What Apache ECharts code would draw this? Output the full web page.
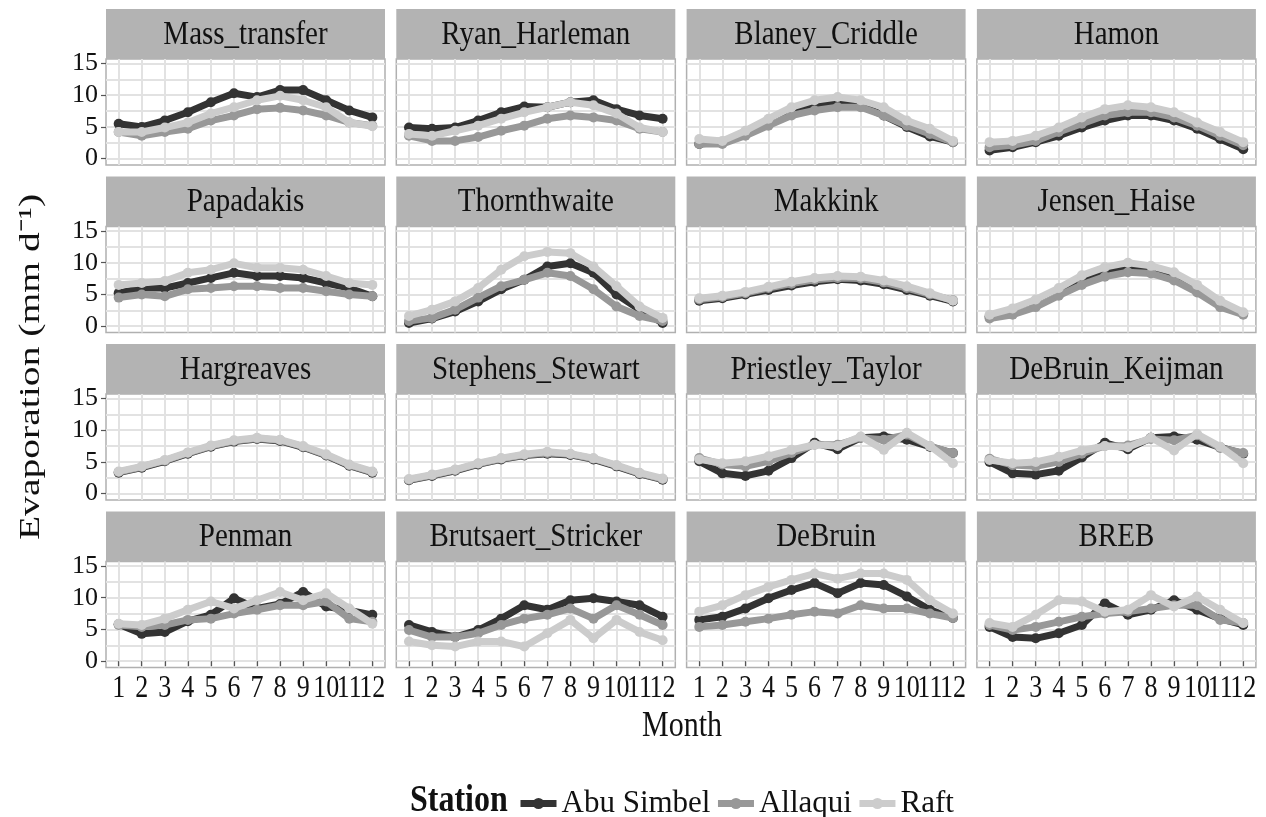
<!DOCTYPE html>
<html>
<head>
<meta charset="utf-8">
<script src="https://cdn.jsdelivr.net/npm/echarts@6/dist/echarts.min.js"></script>
<style>
  html, body { margin: 0; padding: 0; background: #ffffff; }
  #chart { width: 1266px; height: 817px; }
</style>
</head>
<body>
<div id="chart"></div>
<script>
// Monthly mean evaporation (mm/day) by estimation method and station
const months = [1, 2, 3, 4, 5, 6, 7, 8, 9, 10, 11, 12];
const methods = [
  'Mass_transfer', 'Ryan_Harleman', 'Blaney_Criddle', 'Hamon',
  'Papadakis', 'Thornthwaite', 'Makkink', 'Jensen_Haise',
  'Hargreaves', 'Stephens_Stewart', 'Priestley_Taylor', 'DeBruin_Keijman',
  'Penman', 'Brutsaert_Stricker', 'DeBruin', 'BREB'
];
const stations = ['Abu Simbel', 'Allaqui', 'Raft'];
const yTicks = [0, 5, 10, 15];
const yGridValues = [0, 2.5, 5, 7.5, 10, 12.5, 15];

// one row per method, in the order of `methods`
const abuSimbel = [
  [5.5, 5.0, 6.0, 7.3, 8.9, 10.3, 9.7, 10.8, 10.8, 9.2, 7.6, 6.5],
  [4.9, 4.7, 4.9, 6.0, 7.3, 8.2, 8.1, 8.9, 9.2, 7.8, 6.8, 6.3],
  [2.3, 2.6, 3.9, 5.7, 7.3, 8.1, 8.9, 8.4, 6.8, 5.0, 3.5, 2.6],
  [1.3, 1.8, 2.6, 3.6, 4.9, 6.0, 6.8, 6.8, 6.0, 4.7, 3.1, 1.5],
  [5.2, 6.0, 6.0, 6.8, 7.6, 8.4, 7.9, 7.9, 7.6, 6.8, 6.0, 4.7],
  [0.5, 1.2, 2.3, 3.9, 5.8, 7.3, 9.4, 9.9, 8.4, 5.0, 2.6, 0.5],
  [4.0, 4.4, 5.0, 5.7, 6.4, 7.0, 7.4, 7.2, 6.6, 5.7, 4.8, 3.9],
  [1.5, 2.0, 3.2, 5.0, 7.0, 8.5, 9.0, 9.0, 8.0, 6.0, 3.5, 2.0],
  [3.3, 4.1, 5.1, 6.3, 7.4, 8.2, 8.6, 8.3, 7.3, 6.0, 4.4, 3.3],
  [2.1, 2.8, 3.6, 4.6, 5.4, 6.0, 6.3, 6.1, 5.4, 4.3, 3.1, 2.2],
  [5.1, 3.2, 2.8, 3.6, 5.6, 8.0, 7.0, 8.8, 9.0, 8.5, 7.4, 6.4],
  [5.0, 3.2, 3.0, 3.6, 5.7, 8.0, 7.0, 8.8, 9.0, 8.5, 7.3, 6.3],
  [5.8, 4.3, 4.6, 6.3, 7.3, 9.9, 8.3, 9.0, 10.9, 8.6, 8.0, 7.3],
  [5.7, 4.6, 3.8, 4.9, 6.7, 8.8, 8.1, 9.6, 9.9, 9.4, 8.8, 7.0],
  [6.5, 7.0, 8.3, 9.9, 11.2, 12.3, 10.7, 12.3, 12.0, 10.2, 8.1, 6.8],
  [5.4, 3.8, 3.6, 4.4, 5.7, 9.1, 7.3, 8.1, 9.6, 8.1, 6.7, 5.7]
];
const allaqui = [
  [4.2, 3.6, 4.2, 4.7, 6.0, 6.8, 7.8, 8.0, 7.6, 6.8, 5.7, 5.2],
  [3.6, 2.8, 2.8, 3.4, 4.4, 5.2, 6.3, 6.8, 6.5, 6.0, 4.7, 4.2],
  [2.3, 2.3, 3.6, 5.2, 6.8, 7.6, 8.1, 8.1, 6.8, 5.2, 3.9, 2.6],
  [1.8, 2.1, 2.8, 4.2, 5.5, 6.8, 7.3, 7.3, 6.5, 5.2, 3.6, 2.1],
  [4.5, 5.0, 4.7, 5.8, 6.0, 6.3, 6.3, 6.0, 6.0, 5.5, 5.0, 4.7],
  [0.8, 1.3, 2.6, 4.5, 6.3, 7.3, 8.4, 7.9, 5.8, 3.1, 1.6, 0.8],
  [4.2, 4.6, 5.2, 6.0, 6.7, 7.3, 7.6, 7.5, 6.9, 6.0, 5.0, 4.1],
  [1.2, 1.8, 3.0, 4.8, 6.5, 7.8, 8.5, 8.3, 7.2, 5.3, 3.0, 1.8],
  [3.4, 4.2, 5.2, 6.4, 7.5, 8.3, 8.7, 8.4, 7.4, 6.1, 4.5, 3.4],
  [2.2, 2.9, 3.7, 4.7, 5.5, 6.1, 6.4, 6.2, 5.5, 4.4, 3.2, 2.3],
  [5.6, 4.6, 4.3, 5.1, 6.4, 7.7, 7.7, 8.8, 8.5, 9.3, 7.5, 6.4],
  [5.5, 4.5, 4.3, 5.0, 6.3, 7.5, 7.6, 8.6, 8.4, 9.2, 7.2, 6.4],
  [5.7, 5.4, 5.7, 6.5, 6.7, 7.5, 8.1, 8.8, 8.8, 9.4, 6.7, 6.2],
  [4.9, 3.8, 3.8, 4.4, 5.7, 6.7, 7.3, 8.3, 6.7, 8.8, 7.3, 5.7],
  [5.4, 5.7, 6.2, 6.7, 7.3, 7.8, 7.5, 8.8, 8.3, 8.3, 7.5, 6.8],
  [5.7, 4.9, 5.4, 6.2, 7.0, 7.5, 7.8, 8.3, 8.8, 8.8, 6.5, 6.0]
];
const raft = [
  [4.2, 4.2, 4.9, 5.7, 7.1, 8.1, 9.2, 9.9, 9.2, 8.1, 5.7, 5.1],
  [3.9, 3.6, 4.4, 5.2, 6.3, 7.3, 8.1, 8.9, 8.4, 7.1, 4.9, 4.2],
  [3.1, 2.8, 4.4, 6.3, 8.1, 9.2, 9.7, 9.2, 8.1, 6.0, 4.7, 2.8],
  [2.6, 2.8, 3.6, 4.9, 6.5, 7.8, 8.4, 8.1, 7.3, 5.7, 4.2, 2.6],
  [6.5, 6.8, 7.1, 8.4, 8.9, 9.9, 9.2, 9.2, 8.9, 7.9, 6.8, 6.5],
  [1.6, 2.6, 3.9, 6.0, 8.9, 11.0, 11.7, 11.5, 9.4, 6.3, 3.1, 1.3],
  [4.4, 4.8, 5.4, 6.2, 7.0, 7.6, 7.9, 7.8, 7.2, 6.3, 5.2, 4.0],
  [1.8, 2.8, 4.2, 6.0, 8.0, 9.3, 10.0, 9.5, 8.5, 6.5, 4.0, 2.2],
  [3.5, 4.3, 5.3, 6.5, 7.6, 8.4, 8.8, 8.5, 7.5, 6.2, 4.6, 3.5],
  [2.3, 3.0, 3.8, 4.8, 5.6, 6.2, 6.6, 6.3, 5.6, 4.5, 3.3, 2.4],
  [5.4, 4.8, 5.1, 5.9, 6.9, 7.7, 7.5, 9.0, 6.9, 9.6, 7.5, 4.8],
  [5.3, 4.8, 5.0, 5.8, 6.8, 7.5, 7.3, 8.8, 6.8, 9.4, 7.4, 4.8],
  [5.9, 5.7, 6.7, 8.1, 9.4, 8.3, 9.6, 10.9, 9.6, 10.7, 8.3, 5.9],
  [3.1, 2.5, 2.3, 3.1, 3.1, 2.3, 4.4, 6.5, 3.6, 6.5, 4.6, 3.3],
  [7.8, 8.8, 10.4, 11.7, 12.8, 13.8, 13.0, 13.8, 13.8, 12.8, 9.6, 7.5],
  [6.0, 5.4, 7.3, 9.6, 9.4, 7.8, 8.1, 10.4, 8.6, 10.2, 8.1, 6.0]
];

const stationValues = [abuSimbel, allaqui, raft];
const stationColors = ['#333333', '#989898', '#cccccc'];

// facet layout (pixels)
const FONT = '"Liberation Serif", "Times New Roman", serif';
const TEXT = '#111111';
const nCols = 4, nRows = 4;
const colLeft0 = 106, colPitch = 290.3, panelW = 279;
const rowTop0 = 9, rowPitch = 167.5, stripH = 50, plotH = 106;
const xMin = 0.45, xMax = 12.55, yMin = -1.0, yMax = 15.7;
const textStretch = 1.18;

const grids = [], xAxes = [], yAxes = [], series = [], graphics = [];

methods.forEach((name, k) => {
  const col = k % nCols, row = Math.floor(k / nCols);
  const left = colLeft0 + col * colPitch;
  const stripTop = rowTop0 + row * rowPitch;
  const top = stripTop + stripH;
  const bottomRow = row === nRows - 1;

  grids.push({
    left: left, top: top, width: panelW, height: plotH,
    show: true, backgroundColor: '#ffffff',
    borderColor: '#b0b0b0', borderWidth: 1.5
  });

  xAxes.push({
    type: 'value', gridIndex: k, min: xMin, max: xMax,
    axisLine: { show: false },
    axisTick: { show: bottomRow, customValues: months, length: 5, lineStyle: { color: '#555555', width: 1.2 } },
    axisLabel: { show: false },
    splitLine: { show: true, lineStyle: { color: '#e2e2e2', width: 2 } }
  });

  // gridline axis for every panel
  yAxes.push({
    type: 'value', gridIndex: k, min: yMin, max: yMax,
    axisLine: { show: false },
    axisTick: { show: false, customValues: yGridValues },
    axisLabel: { show: false },
    splitLine: { show: true, lineStyle: { color: '#e2e2e2', width: 2 } }
  });

  // strip header
  graphics.push({
    type: 'rect', silent: true,
    shape: { x: left, y: stripTop, width: panelW, height: stripH },
    style: { fill: '#b3b3b3' }
  });
  graphics.push({
    type: 'text', silent: true,
    x: left + panelW / 2, y: stripTop + stripH / 2 + 1, scaleY: textStretch,
    style: {
      text: name, font: '29px ' + FONT, fill: TEXT,
      align: 'center', verticalAlign: 'middle'
    }
  });

  stationValues.forEach((values, s) => {
    series.push({
      type: 'line', name: stations[s],
      xAxisIndex: k, yAxisIndex: k,
      data: months.map((m, i) => [m, values[k][i]]),
      symbol: 'circle', symbolSize: 10, showSymbol: true,
      lineStyle: { width: 7, color: stationColors[s] },
      itemStyle: { color: stationColors[s] },
      z: 3 + s, silent: true, animation: false
    });
  });
});

// tick labels on the left column
for (let row = 0; row < nRows; row++) {
  yAxes.push({
    type: 'value', gridIndex: row * nCols, min: yMin, max: yMax, position: 'left',
    axisLine: { show: false },
    axisTick: { show: true, customValues: yTicks, length: 5, lineStyle: { color: '#555555', width: 1.2 } },
    axisLabel: { customValues: yTicks, margin: 8, fontFamily: FONT, fontSize: 26, color: TEXT },
    splitLine: { show: false }
  });
}

// axis titles and legend heading
graphics.push({
  type: 'text', silent: true, x: 31, y: 367, rotation: Math.PI / 2, scaleX: 1.32,
  style: {
    text: 'Evaporation (mm d\u207B\u00B9)', font: '30px ' + FONT, fill: TEXT,
    align: 'center', verticalAlign: 'middle'
  }
});
graphics.push({
  type: 'text', silent: true, x: 682, y: 727, scaleY: textStretch,
  style: { text: 'Month', font: '30px ' + FONT, fill: TEXT, align: 'center', verticalAlign: 'middle' }
});
graphics.push({
  type: 'text', silent: true, x: 410, y: 801, scaleY: textStretch,
  style: { text: 'Station', font: 'bold 32px ' + FONT, fill: TEXT, align: 'left', verticalAlign: 'middle' }
});

const chart = echarts.init(document.getElementById('chart'), null, { renderer: 'canvas' });
chart.setOption({
  animation: false,
  backgroundColor: '#ffffff',
  grid: grids,
  xAxis: xAxes,
  yAxis: yAxes,
  series: series,
  graphic: graphics,
  legend: {
    data: stations, left: 512, top: 783,
    itemWidth: 36, itemHeight: 14, itemGap: 4,
    lineStyle: { width: 7 },
    textStyle: { fontFamily: FONT, fontSize: 31, color: TEXT },
    selectedMode: false
  },
  tooltip: { show: false }
});

// month labels under the bottom row, placed through each panel's x scale so
// neighbouring two-digit labels are allowed to crowd together
const monthLabels = [];
for (let col = 0; col < nCols; col++) {
  const k = (nRows - 1) * nCols + col;
  months.forEach(m => {
    const p = chart.convertToPixel({ xAxisIndex: k, yAxisIndex: k }, [m, yMin]);
    monthLabels.push({
      type: 'text', silent: true, x: p[0], y: p[1] + 6, scaleY: textStretch,
      style: { text: String(m), font: '26px ' + FONT, fill: TEXT, align: 'center', verticalAlign: 'top' }
    });
  });
}
chart.setOption({ graphic: graphics.concat(monthLabels) });
</script>
</body>
</html>
